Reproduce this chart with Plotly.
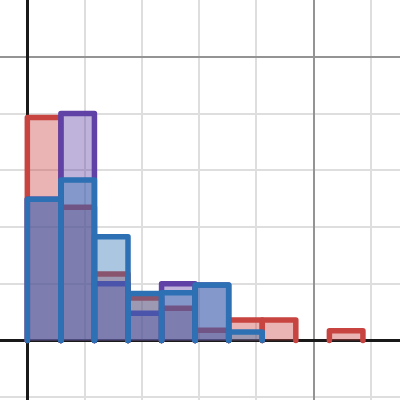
import plotly.graph_objects as go

# Histogram data (bin heights per series)
bin_start = 0.0
bin_width = 0.586
red_heights = [3.93, 2.35, 1.17, 0.75, 0.57, 0.18, 0.36, 0.36, 0.0, 0.17]
purple_heights = [2.49, 4.00, 1.00, 0.48, 1.00, 0.98, 0.0, 0.0, 0.0, 0.0]
blue_heights = [2.49, 2.83, 1.83, 0.83, 0.84, 0.98, 0.15, 0.0, 0.0, 0.0]

series = [
    ("red", red_heights, "rgba(199,68,64,0.4)", "rgb(199,68,64)"),
    ("purple", purple_heights, "rgba(96,66,166,0.4)", "rgb(96,66,166)"),
    ("blue", blue_heights, "rgba(45,112,179,0.4)", "rgb(45,112,179)"),
]

n_bins = len(red_heights)
edges = [bin_start + bin_width * i for i in range(n_bins + 1)]

fig = go.Figure()
for name, h, fill, line in series:
    fx, fy, ox, oy = [], [], [], []
    for i, v in enumerate(h):
        if v <= 0:
            continue
        x0, x1 = edges[i], edges[i + 1]
        fx += [x0, x0, x1, x1, x0, None]
        fy += [0, v, v, 0, 0, None]
        ox += [x0, x0, x1, x1, None]
        oy += [0, v, v, 0, None]
    # filled bars
    fig.add_trace(go.Scatter(
        x=fx, y=fy, mode="none", fill="toself", fillcolor=fill,
        name=name, showlegend=False, hoverinfo="skip",
    ))
    # open-bottom outline of each bar
    fig.add_trace(go.Scatter(
        x=ox, y=oy, mode="lines", name=name + " outline",
        line=dict(color=line, width=5.5),
        showlegend=False, hoverinfo="skip",
    ))

axis_common = dict(
    showticklabels=False, ticks="",
    dtick=5, tick0=0,
    showgrid=True, gridcolor="rgb(148,148,148)", gridwidth=2,
    minor=dict(dtick=1, tick0=0, showgrid=True, gridcolor="rgb(222,222,222)", gridwidth=2),
    zeroline=True, zerolinecolor="rgb(25,25,25)", zerolinewidth=2.5,
    showline=False, fixedrange=True,
)

fig.update_layout(
    width=400, height=400,
    margin=dict(l=0, r=0, t=0, b=0),
    paper_bgcolor="white", plot_bgcolor="white",
    xaxis=dict(range=[-0.477, 6.507], **axis_common),
    yaxis=dict(range=[-1.048, 6.0], **axis_common),
)

fig.write_html(
    "out.html",
    config={"displayModeBar": False, "staticPlot": True},
    post_script="document.body.style.margin='0';document.body.style.padding='0';"
                "document.querySelectorAll('.scatterlayer path.js-line').forEach(function(p){p.style.strokeLinejoin='round';p.style.strokeLinecap='round';});",
)
